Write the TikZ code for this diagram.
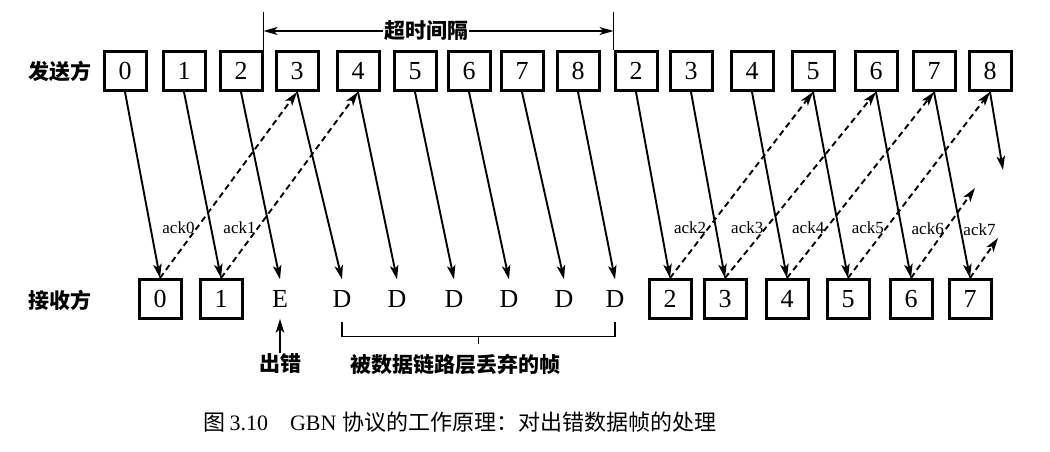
\documentclass[tikz,border=0pt]{standalone}
\usepackage{fontspec}
\setmainfont{Liberation Serif}
\newfontfamily\cjk{Noto Sans CJK SC}
\usetikzlibrary{positioning}
\usetikzlibrary{arrows.meta}
\usetikzlibrary{calc}
\newcommand{\digitfont}{\fontsize{26}{26}\selectfont}
\newcommand{\ackfont}{\fontsize{17}{17}\selectfont}
\newcommand{\cjkfont}{\cjk\bfseries\fontsize{21}{21}\selectfont}

\tikzset{
  frame/.style={draw, line width=3pt, minimum width=42pt, minimum height=39pt, inner sep=0pt, font=\digitfont},
  slot/.style={minimum width=42pt, minimum height=39pt, inner sep=0pt, font=\digitfont},
  tag/.style={font=\cjkfont, inner sep=1pt},
  data/.style={-{Stealth[length=14pt,width=8.5pt,inset=3.5pt]}, line width=1.9pt},
  ack/.style={data, dash pattern=on 6pt off 4pt},
  acklabel/.style={font=\ackfont, inner sep=1.5pt}
}

\begin{document}
\begin{tikzpicture}[x=1pt, y=-1pt]
  \useasboundingbox (0,0) rectangle (1050,452);
  \node[tag] (send) at (60,71) {发送方};
  \node[frame] (T0) at (125,71) {0};
  \node[frame] (T1) at (184,71) {1};
  \node[frame] (T2) at (241,71) {2};
  \node[frame] (T3) at (297,71) {3};
  \node[frame] (T4) at (358,71) {4};
  \node[frame] (T5) at (415,71) {5};
  \node[frame] (T6) at (469,71) {6};
  \node[frame] (T7) at (522,71) {7};
  \node[frame] (T8) at (578,71) {8};
  \node[frame] (T2b) at (636,71) {2};
  \node[frame] (T3b) at (691,71) {3};
  \node[frame] (T4b) at (752,71) {4};
  \node[frame] (T5b) at (813,71) {5};
  \node[frame] (T6b) at (876,71) {6};
  \node[frame] (T7b) at (934,71) {7};
  \node[frame] (T8b) at (990,71) {8};
  \node[tag] (recv) at (60,300) {接收方};
  \node[frame] (R0) at (160,299) {0};
  \node[frame] (R1) at (221,299) {1};
  \node[slot] (RE) at (280,299) {E};
  \node[slot] (RD3) at (342,299) {D};
  \node[slot] (RD4) at (397,299) {D};
  \node[slot] (RD5) at (454,299) {D};
  \node[slot] (RD6) at (509,299) {D};
  \node[slot] (RD7) at (564,299) {D};
  \node[slot] (RD8) at (615,299) {D};
  \node[frame] (R2) at (670,299) {2};
  \node[frame] (R3) at (725,299) {3};
  \node[frame] (R4) at (787,299) {4};
  \node[frame] (R5) at (848,299) {5};
  \node[frame] (R6) at (911,299) {6};
  \node[frame] (R7) at (970,299) {7};
  \coordinate (X8) at (1003,170);
  \coordinate (A6) at (975,188);
  \coordinate (A7) at (998,238);
  \node[tag] (timeout) at (426,31) {超时间隔};
  \draw[line width=1.5pt] (T2.north east) -- ++(0,-38) coordinate (TL);
  \draw[line width=1.5pt] (T2b.north west) -- ++(0,-38) coordinate (TR);
  \draw[-{Stealth[length=14pt,width=8pt,inset=3.5pt]}, line width=1.5pt] (timeout.west) -- (TL |- timeout);
  \draw[-{Stealth[length=14pt,width=8pt,inset=3.5pt]}, line width=1.5pt] (timeout.east) -- (TR |- timeout);
  \draw[data] (T0.south) to (R0.north);
  \draw[data] (T1.south) to (R1.north);
  \draw[data] (T2.south) to (RE.north);
  \draw[data] (T3.south) to (RD3.north);
  \draw[data] (T4.south) to (RD4.north);
  \draw[data] (T5.south) to (RD5.north);
  \draw[data] (T6.south) to (RD6.north);
  \draw[data] (T7.south) to (RD7.north);
  \draw[data] (T8.south) to (RD8.north);
  \draw[data] (T2b.south) to (R2.north);
  \draw[data] (T3b.south) to (R3.north);
  \draw[data] (T4b.south) to (R4.north);
  \draw[data] (T5b.south) to (R5.north);
  \draw[data] (T6b.south) to (R6.north);
  \draw[data] (T7b.south) to (R7.north);
  \draw[data] (T8b.south) to (X8);
  \draw[ack] (R0.north) to node[acklabel, pos=.27, left] {ack0} (T3.south);
  \draw[ack] (R1.north) to node[acklabel, pos=.27, left] {ack1} (T4.south);
  \draw[ack] (R2.north) to node[acklabel, pos=.27, left] {ack2} (T5b.south);
  \draw[ack] (R3.north) to node[acklabel, pos=.27, left] {ack3} (T6b.south);
  \draw[ack] (R4.north) to node[acklabel, pos=.27, left] {ack4} (T7b.south);
  \draw[ack] (R5.north) to node[acklabel, pos=.27, left] {ack5} (T8b.south);
  \draw[ack] (R6.north) to node[acklabel, pos=.55, left] {ack6} (A6);
  \draw[ack] (R7.north) to node[acklabel, pos=1, above left] {ack7} (A7);
  \node[tag] (err) at (280,364) {出错};
  \draw[data, line width=1.5pt] (err.north) to (RE.south);
  \draw[line width=1.5pt] ([yshift=-3pt]RD3.south) -- ++(0,15) -| ([yshift=-3pt]RD8.south);
  \draw[line width=1.5pt] ($(RD3.south)!.5!(RD8.south)$) ++(0,18) -- ++(0,7);
  \node[tag] (lost) at (455,364) {被数据链路层丢弃的帧};
  \node[font=\fontsize{22}{22}\selectfont] (caption) at (460,422) {{\cjk 图}\,3.10\quad GBN {\cjk 协议的工作原理：对出错数据帧的处理}};
\end{tikzpicture}
\end{document}
